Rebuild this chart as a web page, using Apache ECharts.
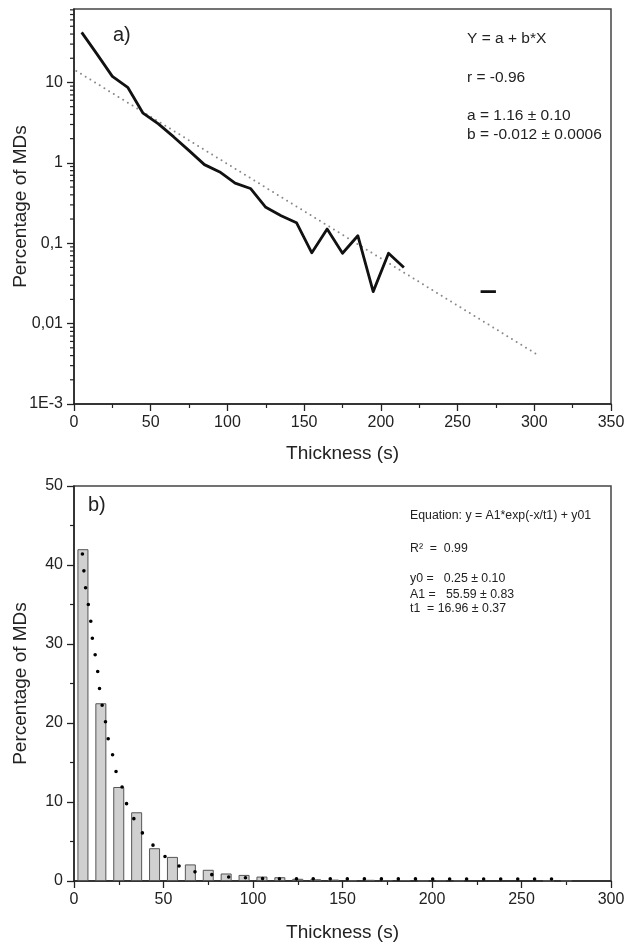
<!DOCTYPE html>
<html><head><meta charset="utf-8">
<script src="https://cdn.jsdelivr.net/npm/echarts@6/dist/echarts.min.js"></script>
<style>html,body{margin:0;padding:0;background:#fff}#c{width:624px;height:944px}</style>
</head><body><div id="c"></div>
<script>
// ---- data ----
const binCenters = [5,15,25,35,45,55,65,75,85,95,105,115,125,135,145,155,165,175,185,195,205,215,225,235,245,255,265,275];
const percentMDs = [42,22.5,11.9,8.7,4.15,3.05,2.1,1.42,0.95,0.77,0.56,0.48,0.28,0.22,0.18,0.076,0.15,0.075,0.124,0.025,0.075,0.05,null,null,null,null,0.025,0.025];
// linear fit of log10(%) vs thickness (panel a), end points
const fitAX = [1.5, 303];
const fitAY = [13.9, 0.004];
// exponential decay fit (panel b)
const fitBX = [4.7, 8.0, 11.6, 15.9, 19.4, 24.0, 30.4, 34.9, 40.8, 49.7, 59.1, 68.4, 77.7, 87.5, 106.5, 130, 267];
const fitBY = [41.4, 35.0, 28.7, 22.2, 17.9, 13.7, 9.46, 7.34, 5.2, 3.16, 1.9, 1.14, 0.8, 0.5, 0.3, 0.27, 0.25];
// tick labels
const logTickValues = [0.001, 0.01, 0.1, 1, 10];
const logTickLabels = ['1E-3', '0,01', '0,1', '1', '10'];
const xTitle = 'Thickness (s)';
const yTitle = 'Percentage of MDs';
const annotA = ['Y = a + b*X', 'r = -0.96', 'a = 1.16 \u00b1 0.10', 'b = -0.012 \u00b1 0.0006'];
const annotB = ['Equation: y = A1*exp(-x/t1) + y01', 'R\u00b2  =  0.99', 'y0 =   0.25 \u00b1 0.10', 'A1 =   55.59 \u00b1 0.83', 't1  = 16.96 \u00b1 0.37'];

// minor tick positions of the log axis (2..9 of each decade)
const logMinorTicks = [];
[0.001, 0.01, 0.1, 1, 10].forEach(d => { for (let k = 2; k <= 9; k++) { const v = d * k; if (v < 82) logMinorTicks.push(+v.toPrecision(3)); } });

const FONT = "'Liberation Sans', Arial, Helvetica, sans-serif";
const INK = '#222';
const axisLine = { show: true, lineStyle: { color: INK, width: 1.5 } };
const axisTick = { show: true, inside: false, length: 7, lineStyle: { color: INK, width: 1.3 } };
const minorTick = { show: true, splitNumber: 2, length: 4, lineStyle: { color: INK, width: 1.2 } };
const axisLabel = { fontSize: 16, color: INK, fontFamily: FONT, margin: 11 };
const nameStyle = { fontSize: 19, color: INK, fontFamily: FONT };

const chart = echarts.init(document.getElementById('c'), null, { renderer: 'canvas' });

const lineData = binCenters.map((x, i) => [x, percentMDs[i]]);
const barData = binCenters.map((x, i) => [x, percentMDs[i]]).filter(d => d[1] !== null);

const txt = (x, y, text, size) => ({
  type: 'text', x: x, y: y, silent: true,
  style: { text: text, fill: INK, font: size + 'px ' + FONT, verticalAlign: 'middle', align: 'left' }
});

const logLabel = v => {
  for (let i = 0; i < logTickValues.length; i++) {
    if (Math.abs(Math.log10(v) - Math.log10(logTickValues[i])) < 1e-6) return logTickLabels[i];
  }
  return '';
};

chart.setOption({
  backgroundColor: '#fff',
  animation: false,
  grid: [
    { left: 74, top: 9, width: 537, height: 395, show: true, borderColor: '#444', borderWidth: 1.5, backgroundColor: 'transparent', containLabel: false, outerBoundsMode: 'none' },
    { left: 74, top: 486, width: 537, height: 395, show: true, borderColor: '#444', borderWidth: 1.5, backgroundColor: 'transparent', containLabel: false, outerBoundsMode: 'none' }
  ],
  xAxis: [
    { type: 'value', gridIndex: 0, min: 0, max: 350, interval: 50, axisLine, axisTick, minorTick, splitLine: { show: false },
      axisLabel, name: xTitle, nameLocation: 'middle', nameGap: 40, nameTextStyle: nameStyle, nameMoveOverlap: false },
    { type: 'value', gridIndex: 1, min: 0, max: 300, interval: 50, axisLine, axisTick, minorTick, splitLine: { show: false },
      axisLabel, name: xTitle, nameLocation: 'middle', nameGap: 42, nameTextStyle: nameStyle, nameMoveOverlap: false }
  ],
  yAxis: [
    { type: 'log', logBase: 10, gridIndex: 0, min: 0.001, max: 82, axisLine,
      axisTick: Object.assign({}, axisTick, { customValues: logTickValues }),
      splitLine: { show: false },
      axisLabel: Object.assign({}, axisLabel, { customValues: logTickValues, formatter: logLabel }),
      name: yTitle, nameLocation: 'middle', nameGap: 44, nameTextStyle: nameStyle, nameMoveOverlap: false },
    { type: 'value', gridIndex: 1, min: 0, max: 50, interval: 10, axisLine, axisTick, minorTick, splitLine: { show: false },
      axisLabel, name: yTitle, nameLocation: 'middle', nameGap: 44, nameTextStyle: nameStyle, nameMoveOverlap: false }
  ],
  series: [
    { type: 'custom', xAxisIndex: 0, yAxisIndex: 0, silent: true, clip: false,
      data: logMinorTicks.map(v => [0, v]),
      renderItem: (params, api) => {
        const p = api.coord([0, api.value(1)]);
        return { type: 'line', shape: { x1: p[0] - 4, y1: p[1], x2: p[0], y2: p[1] }, style: { stroke: INK, lineWidth: 1.2 } };
      } },
    { type: 'line', xAxisIndex: 0, yAxisIndex: 0, data: fitAX.map((x, i) => [x, fitAY[i]]), showSymbol: false,
      lineStyle: { color: '#888', width: 2, type: [0, 5.5], cap: 'round' }, z: 2 },
    { type: 'line', xAxisIndex: 0, yAxisIndex: 0, data: lineData, showSymbol: false, connectNulls: false,
      lineStyle: { color: '#111', width: 2.8, join: 'round' }, z: 3 },
    { type: 'bar', xAxisIndex: 1, yAxisIndex: 1, data: barData, barWidth: 11,
      itemStyle: { color: '#d0d0d0', borderColor: '#555', borderWidth: 1 }, z: 2 },
    { type: 'line', xAxisIndex: 1, yAxisIndex: 1, data: fitBX.map((x, i) => [x, fitBY[i]]), showSymbol: false,
      smooth: 0.3, smoothMonotone: 'x',
      lineStyle: { color: '#000', width: 3.6, type: [0, 17], cap: 'round' }, z: 4 }
  ],
  graphic: [
    txt(113, 35, 'a)', 20),
    txt(467, 38.5, annotA[0], 15.5),
    txt(467, 77.5, annotA[1], 15.5),
    txt(467, 115.5, annotA[2], 15.5),
    txt(467, 135, annotA[3], 15.5),
    txt(88, 505, 'b)', 20),
    txt(410, 515.7, annotB[0], 12.3),
    txt(410, 548.3, annotB[1], 12.3),
    txt(410, 578.3, annotB[2], 12.3),
    txt(410, 594.3, annotB[3], 12.3),
    txt(410, 608.3, annotB[4], 12.3)
  ]
});
</script></body></html>
